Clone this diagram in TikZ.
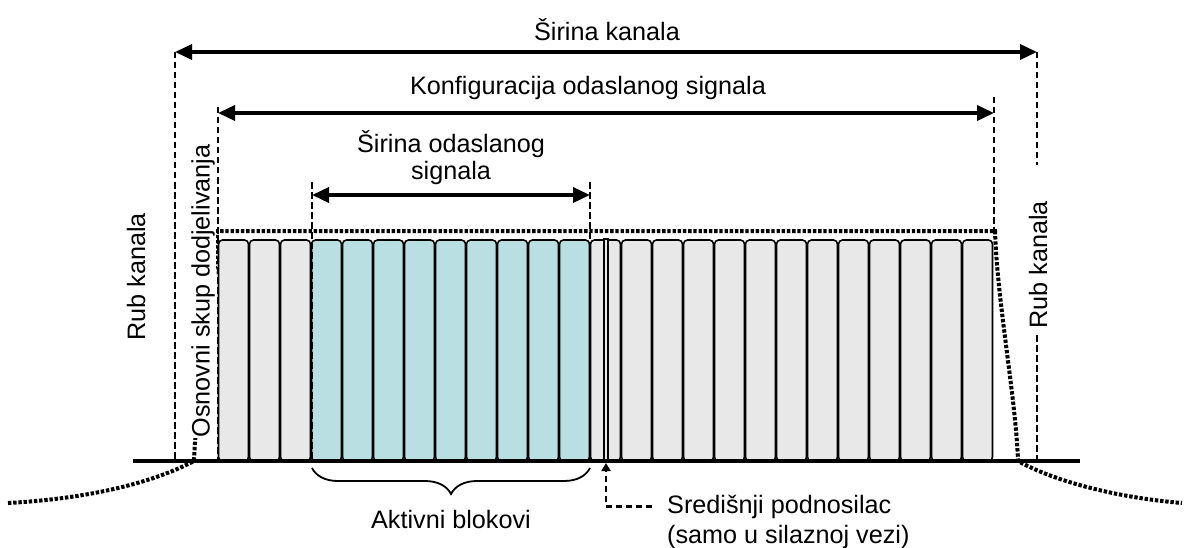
\documentclass[tikz,border=0pt]{standalone}
\usepackage{fontspec}
\setmainfont{Liberation Sans}
\usetikzlibrary{arrows.meta,decorations.pathreplacing}
\definecolor{blokgray}{RGB}{232,232,232}
\definecolor{blokcyan}{RGB}{186,223,226}
\tikzset{
  dim/.style={line width=3.6pt,{Triangle[length=17pt,width=15pt]}-{Triangle[length=17pt,width=15pt]}},
  edgeline/.style={line width=2.6pt,dash pattern=on 6.5pt off 3.5pt},
  maskline/.style={line width=4pt,dash pattern=on 3.4pt off 1.8pt},
  blok/.style={draw,line width=1.6pt,rounded corners=4pt},
  lbl/.style={font=\fontsize{25.2}{27}\selectfont,inner sep=0pt}
}

\begin{document}
\begin{tikzpicture}[x=1pt,y=-1pt]
  \useasboundingbox (0,0) rectangle (1190,548);
  \foreach \i in {0,1,2,12,13,...,24} \draw[blok,fill=blokgray] (218.5+31*\i,240) rectangle (248.5+31*\i,461);
  \foreach \i in {3,...,11} \draw[blok,fill=blokcyan] (218.5+31*\i,240) rectangle (248.5+31*\i,461);
  \draw[line width=1.3pt,fill=blokgray] (604,239) rectangle (608,461);
  \coordinate (chL) at (175,52);
  \coordinate (chR) at (1037,52);
  \coordinate (cfL) at (218,113);
  \coordinate (cfR) at (994,113);
  \coordinate (txL) at (312,195);
  \coordinate (txR) at (590,195);
  \coordinate (axL) at (133,461);
  \coordinate (axR) at (1080,461);
  \coordinate (dc) at (606,463);
  \draw[edgeline] (chL) -- (175,461);
  \draw[edgeline] (chR) -- (1037,165);
  \draw[edgeline] (1037,335) -- (1037,461);
  \draw[edgeline] (218,107) -- (218,461);
  \draw[edgeline] (994,97) -- (994,231);
  \draw[edgeline] (312,182) -- (312,461);
  \draw[edgeline] (590,182) -- (590,461);
  \draw[line width=3.6pt] (axL) -- (axR);
  \draw[maskline] (8,503) .. controls (100,498) and (160,479) .. (194,461) .. controls (196,400) and (215,300) .. (217,231) -- (995,231) .. controls (997,300) and (1016,400) .. (1018,461) .. controls (1050,479) and (1110,497) .. (1182,503);
  \draw[dim] (chL) -- (chR);
  \draw[dim] (cfL) -- (cfR);
  \draw[dim] (txL) -- (txR);
  \node[lbl] (chW) at (607,30) {Širina kanala};
  \node[lbl] (cfW) at (588,88) {Konfiguracija odaslanog signala};
  \node[lbl,align=center] (txW) at (451,158) {Širina odaslanog\\signala};
  \node[lbl,rotate=90] (rubL) at (136,277) {Rub kanala};
  \node[lbl,rotate=90] (rubR) at (1038,265) {Rub kanala};
  \node[lbl,rotate=90,fill=white,inner sep=1pt] (osn) at (203,291) {Osnovni skup dodjelivanja};
  \draw[line width=1.8pt,decorate,decoration={brace,mirror,amplitude=26pt}] (312,468) -- (590,468);
  \node[lbl] (akt) at (451,519) {Aktivni blokovi};
  \node[lbl,anchor=base west] (sc) at (667,513) {Središnji podnosilac};
  \node[lbl,anchor=base west] (scb) at (667,543) {(samo u silaznoj vezi)};
  \draw[line width=2.8pt,dash pattern=on 6pt off 4pt,-{Triangle[length=8pt,width=9pt]}] ([xshift=-15pt]sc.west) -| (dc);
\end{tikzpicture}
\end{document}
